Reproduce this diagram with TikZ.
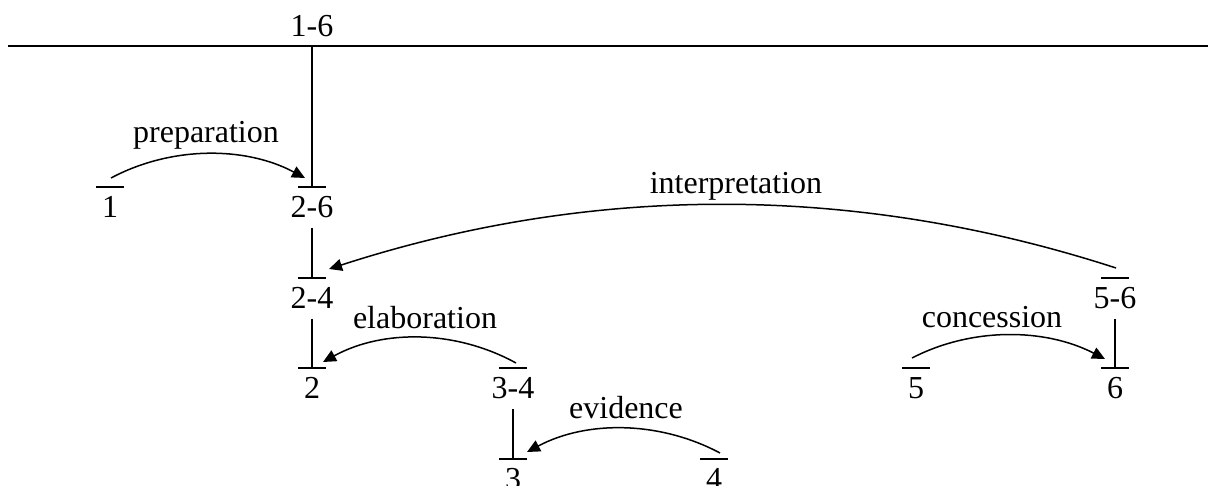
\documentclass[tikz,border=0pt]{standalone}
\usepackage{fontspec}
\setmainfont{Liberation Serif}
\usetikzlibrary{arrows.meta}
\begin{document}
\begin{tikzpicture}[x=0.5pt,y=-0.5pt,
  every node/.style={font=\fontsize{16pt}{19pt}\selectfont, inner sep=0pt},
  seg/.style={minimum height=20pt, anchor=north},
  rel/.style={anchor=base},
  line/.style={line width=0.65pt},
  rst/.style={line width=0.75pt, -{Triangle[length=6.5pt,width=6pt]}}]
\useasboundingbox (0,0) rectangle (1208,486);
% root
\coordinate (rootL) at (8,46);
\coordinate (rootR) at (1208,46);
\coordinate (root) at (312,46);
\node[rel] (n16) at (312,37) {1-6};
\draw[line] (rootL) -- (rootR);
% segment nodes (placed at their bars)
\node[seg] (n1)  at (110,187) {1};
\node[seg] (n26) at (312,187) {2-6};
\node[seg] (n24) at (312,278) {2-4};
\node[seg] (n2)  at (312,368) {2};
\node[seg] (n34) at (513,368) {3-4};
\node[seg] (n3)  at (513,459) {3};
\node[seg] (n4)  at (714,459) {4};
\node[seg] (n56) at (1115,278) {5-6};
\node[seg] (n5)  at (916,368) {5};
\node[seg] (n6)  at (1115,368) {6};
\foreach \n in {n1,n26,n24,n2,n34,n3,n4,n56,n5,n6}
  \draw[line] ([xshift=-7pt]\n.north) -- ([xshift=7pt]\n.north);
% span lines
\draw[line] (root) -- (n26.north);
\draw[line] (n26.south) -- (n24.north);
\draw[line] (n24.south) -- (n2.north);
\draw[line] (n34.south) -- (n3.north);
\draw[line] (n56.south) -- (n6.north);
% relations
\draw[rst] ([xshift=0.5pt,yshift=4.5pt]n1.north) .. controls +(60,-32) and +(-60,-32) .. ([xshift=-3.5pt,yshift=4.5pt]n26.north);
\node[rel] (lprep) at (206,143) {preparation};
\draw[rst] ([xshift=0.5pt,yshift=5pt]n56.north) .. controls +(-262,-85) and +(262,-85) .. ([xshift=8.5pt,yshift=4.5pt]n24.north);
\node[rel] (linterp) at (736,193) {interpretation};
\draw[rst] ([xshift=1.5pt,yshift=2.5pt]n34.north) .. controls +(-60,-33) and +(60,-33) .. ([xshift=5.5pt,yshift=3pt]n2.north);
\node[rel] (lelab) at (425,328) {elaboration};
\draw[rst] ([xshift=3pt,yshift=3pt]n4.north) .. controls +(-60,-32) and +(60,-32) .. ([xshift=7pt,yshift=3.5pt]n3.north);
\node[rel] (levid) at (626,418) {evidence};
\draw[rst] ([xshift=-2pt,yshift=5pt]n5.north) .. controls +(60,-31) and +(-60,-31) .. ([xshift=-5pt,yshift=4.5pt]n6.north);
\node[rel] (lconc) at (992,327) {concession};
\end{tikzpicture}
\end{document}
